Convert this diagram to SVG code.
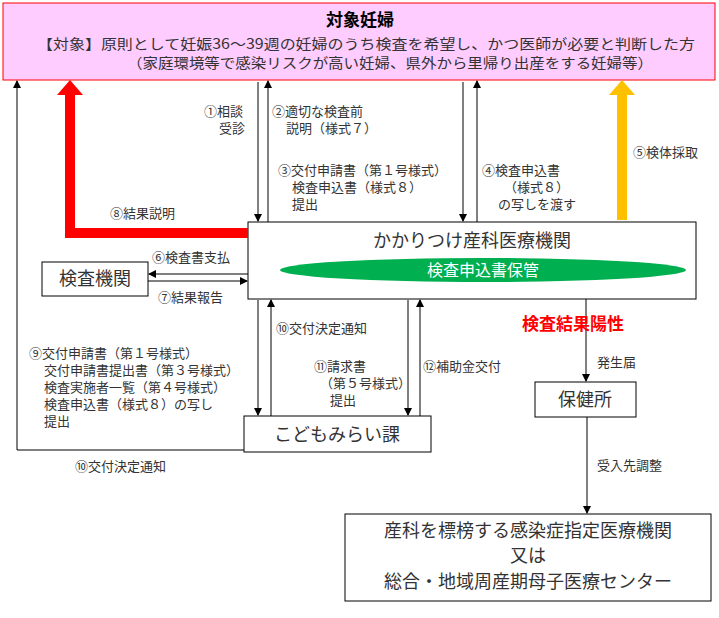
<svg xmlns="http://www.w3.org/2000/svg" width="719" height="618" viewBox="0 0 719 618">
<style>
text{font-family:"Noto Sans CJK JP","Noto Sans",sans-serif;fill:#333}
.s{font-size:13px}
.m{font-size:18px}
.b{fill:#fff;stroke:#000;stroke-width:1}
.l{stroke:#000;stroke-width:1;fill:none}
</style>
<defs>
<marker id="a" markerWidth="8" markerHeight="8" refX="7" refY="4" orient="auto" markerUnits="userSpaceOnUse"><path d="M0,0L8,4L0,8z" fill="#000"/></marker>
</defs>
<rect width="719" height="618" fill="#fff"/>
<g id="target">
<rect x="3" y="3" width="712" height="77" fill="#ffccff" stroke="#ff0000"/>
<text x="360" y="26" font-size="17" font-weight="bold" text-anchor="middle" style="fill:#000">対象妊婦</text>
<text x="37" y="49" font-size="14" textLength="658" lengthAdjust="spacingAndGlyphs">【対象】原則として妊娠36〜39週の妊婦のうち検査を希望し、かつ医師が必要と判断した方</text>
<text x="127" y="68" font-size="14" textLength="526" lengthAdjust="spacingAndGlyphs">（家庭環境等で感染リスクが高い妊婦、県外から里帰り出産をする妊婦等）</text>
</g>
<g id="clinic">
<rect class="b" x="248" y="222" width="448" height="77"/>
<text x="472" y="247" class="m" text-anchor="middle">かかりつけ産科医療機関</text>
<ellipse cx="483" cy="270" rx="203" ry="12" fill="#00b050"/>
<text x="483" y="276" font-size="16" text-anchor="middle" style="fill:#fff">検査申込書保管</text>
</g>
<g id="lab"><rect class="b" x="42" y="262" width="106" height="34"/><text x="95" y="285" class="m" text-anchor="middle">検査機関</text></g>
<g id="kodomo"><rect class="b" x="244" y="416" width="187" height="36"/><text x="337" y="441" class="m" text-anchor="middle">こどもみらい課</text></g>
<g id="hokenjo"><rect class="b" x="535" y="382" width="101" height="35"/><text x="585" y="406" class="m" text-anchor="middle">保健所</text></g>
<g id="hospital"><rect class="b" x="345" y="514" width="366" height="87"/>
<text x="528" y="537" class="m" text-anchor="middle">産科を標榜する感染症指定医療機関</text>
<text x="528" y="562" class="m" text-anchor="middle">又は</text>
<text x="528" y="588" class="m" text-anchor="middle">総合・地域周産期母子医療センター</text></g>
<g id="connectors">
<path class="l" d="M244,450H17V81" marker-end="url(#a)"/>
<path d="M248,233H70V95" stroke="#ff0000" stroke-width="10" fill="none"/>
<path d="M70,80L57,95H83z" fill="#ff0000"/>
<path d="M622,220V95" stroke="#ffc000" stroke-width="10" fill="none"/>
<path d="M622,80L609,95H635z" fill="#ffc000"/>
<path class="l" d="M258,82V221" marker-end="url(#a)"/>
<path class="l" d="M268,222V81" marker-end="url(#a)"/>
<path class="l" d="M463,82V221" marker-end="url(#a)"/>
<path class="l" d="M477,222V81" marker-end="url(#a)"/>
<path class="l" d="M248,274H149" marker-end="url(#a)"/>
<path class="l" d="M148,281H247" marker-end="url(#a)"/>
<path class="l" d="M258,300V415" marker-end="url(#a)"/>
<path class="l" d="M271,416V300" marker-end="url(#a)"/>
<path class="l" d="M408,300V415" marker-end="url(#a)"/>
<path class="l" d="M420,416V300" marker-end="url(#a)"/>
<path class="l" d="M586,299V381" marker-end="url(#a)"/>
<path class="l" d="M587,417V513" marker-end="url(#a)"/>
</g>
<g id="labels">
<text x="204" y="116" class="s">①相談</text><text x="219" y="133" class="s">受診</text>
<text x="272" y="116" class="s">②適切な検査前</text><text x="286" y="133" class="s">説明（様式７）</text>
<text x="278" y="175" class="s">③交付申請書（第１号様式）</text><text x="292" y="192" class="s">検査申込書（様式８）</text><text x="292" y="209" class="s">提出</text>
<text x="482" y="175" class="s">④検査申込書</text><text x="504" y="192" class="s">（様式８）</text><text x="498" y="209" class="s">の写しを渡す</text>
<text x="633" y="157" class="s">⑤検体採取</text>
<text x="110" y="218" class="s">⑧結果説明</text>
<text x="152" y="262" class="s">⑥検査書支払</text>
<text x="158" y="302" class="s">⑦結果報告</text>
<text x="522" y="330" font-size="17" font-weight="bold" style="fill:#ff0000">検査結果陽性</text>
<text x="597" y="367" class="s">発生届</text>
<text x="597" y="470" class="s">受入先調整</text>
<text x="276" y="333" class="s">⑩交付決定通知</text>
<text x="29" y="358" class="s">⑨交付申請書（第１号様式）</text>
<text x="44" y="375" class="s">交付申請書提出書（第３号様式）</text>
<text x="44" y="392" class="s">検査実施者一覧（第４号様式）</text>
<text x="44" y="409" class="s">検査申込書（様式８）の写し</text>
<text x="44" y="426" class="s">提出</text>
<text x="314" y="371" class="s">⑪請求書</text><text x="320" y="388" class="s">（第５号様式）</text><text x="330" y="405" class="s">提出</text>
<text x="423" y="371" class="s">⑫補助金交付</text>
<text x="75" y="471" class="s">⑩交付決定通知</text>
</g>
</svg>
